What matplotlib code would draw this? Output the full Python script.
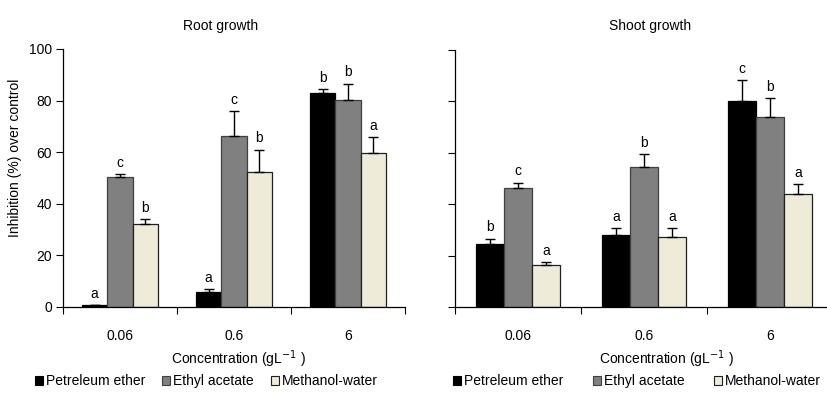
import numpy as np
import matplotlib

matplotlib.use("Agg")
import matplotlib.pyplot as plt
from matplotlib.patches import Patch

plt.rcParams["font.family"] = ["Liberation Sans", "DejaVu Sans"]
plt.rcParams["font.size"] = 10

concentrations = ["0.06", "0.6", "6"]
solvents = ["Petreleum ether", "Ethyl acetate", "Methanol-water"]
colors = ["#000000", "#808080", "#EEEBD9"]
edges = ["#000000", "#404040", "#202020"]

# mean inhibition (%) and upper error (SE)
root_pe = [0.9, 5.7, 82.8]
root_ea = [50.2, 66.2, 80.4]
root_mw = [32.3, 52.5, 59.6]
root_pe_err = [0.0, 1.3, 1.7]
root_ea_err = [1.3, 9.8, 6.2]
root_mw_err = [1.7, 8.5, 6.1]
root_letters = [["a", "a", "b"], ["c", "c", "b"], ["b", "b", "a"]]

shoot_pe = [24.4, 28.2, 80.1]
shoot_ea = [46.2, 54.4, 73.8]
shoot_mw = [16.2, 27.3, 43.9]
shoot_pe_err = [2.2, 2.6, 8.3]
shoot_ea_err = [2.2, 5.1, 7.5]
shoot_mw_err = [1.3, 3.5, 4.0]
shoot_letters = [["b", "a", "c"], ["c", "b", "b"], ["a", "a", "a"]]

W = 827
H = 400


def panel(ax, means, errs, letters, show_labels):
    x = np.arange(len(concentrations))
    w = 0.222
    for i, (m, e) in enumerate(zip(means, errs)):
        xi = x + (i - 1) * w
        ax.bar(xi, m, w, color=colors[i], edgecolor=edges[i], lw=0.9,
               zorder=2)
        ax.errorbar(xi, m, yerr=[np.zeros(len(e)), e], fmt="none",
                    ecolor="black", elinewidth=1.0, capsize=3.5,
                    capthick=1.0, zorder=3)
        for xx, mm, ee, lab in zip(xi, m, e, letters[i]):
            ax.annotate(lab, (xx, mm + ee), xytext=(0, 3),
                        textcoords="offset points", ha="center",
                        va="bottom", fontsize=10)
    ax.set_xlim(-0.5, 2.5)
    ax.set_ylim(0, 100)
    ax.set_yticks(range(0, 101, 20))
    ax.set_xticks(x)
    ax.set_xticklabels(concentrations)
    ax.set_xticks([-0.5, 0.5, 1.5, 2.5], minor=True)
    ax.tick_params(axis="x", which="major", length=0, pad=16)
    ax.tick_params(axis="x", which="minor", length=5, direction="out",
                   width=0.8)
    ax.tick_params(axis="y", length=5, direction="out", width=0.8,
                   labelleft=show_labels, pad=3)
    for s in ("top", "right"):
        ax.spines[s].set_visible(False)
    for s in ("left", "bottom"):
        ax.spines[s].set_linewidth(0.9)


fig = plt.figure(figsize=(W / 100, H / 100), dpi=100)
axL = fig.add_axes([63 / W, 1 - 307 / H, (405 - 63) / W, (307 - 49) / H])
axR = fig.add_axes([455 / W, 1 - 307 / H, (833 - 455) / W, (307 - 50) / H])

panel(axL, [root_pe, root_ea, root_mw],
      [root_pe_err, root_ea_err, root_mw_err], root_letters, True)
panel(axR, [shoot_pe, shoot_ea, shoot_mw],
      [shoot_pe_err, shoot_ea_err, shoot_mw_err], shoot_letters, False)

fig.text(221 / W, 1 - 26 / H, "Root growth", ha="center", va="center")
fig.text(650 / W, 1 - 26 / H, "Shoot growth", ha="center", va="center")
fig.text(15 / W, 1 - 158 / H, "Inhibition (%) over control", rotation=90,
         ha="center", va="center")

xlab = "Concentration (gL$^{-1}$ )"
fig.text(238 / W, 1 - 359 / H, xlab, ha="center", va="center")
fig.text(666 / W, 1 - 359 / H, xlab, ha="center", va="center")

handles = [Patch(facecolor=c, edgecolor=e, lw=0.8)
           for c, e in zip(colors, edges)]
for x0, sp in ((35, 1.2), (453, 2.1)):
    fig.legend(handles, solvents, loc="center left",
               bbox_to_anchor=(x0 / W, 1 - 381 / H), ncol=3, frameon=False,
               handlelength=0.6, handleheight=0.6, handletextpad=0.2,
               columnspacing=sp, borderaxespad=0, borderpad=0,
               fontsize=10)

fig.savefig("out.png", dpi=100)
